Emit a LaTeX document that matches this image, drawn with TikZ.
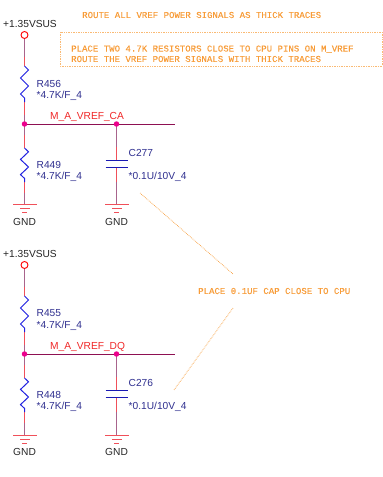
\documentclass[tikz,border=0pt]{standalone}
\usepackage{fontspec}
\setmainfont{Liberation Sans}
\newfontfamily\notefont[FakeBold=0.12]{Liberation Mono}
\definecolor{wiremauve}{HTML}{A8648C}
\definecolor{wirered}{HTML}{F0505A}
\definecolor{netcol}{HTML}{8E1052}
\definecolor{partblue}{HTML}{2020E0}
\definecolor{labelblue}{HTML}{303090}
\definecolor{netlabel}{HTML}{F02828}
\definecolor{notecol}{HTML}{F89C38}
\tikzset{
  wirem/.style={draw=wiremauve,line width=1.5pt},
  wirer/.style={draw=wirered,line width=1.5pt},
  gndbar/.style={draw=wirered,line width=0.9pt},
  plate/.style={draw=partblue!80!black,line width=0.85pt},
  net/.style={draw=netcol,line width=0.85pt},
  res/.style={draw=partblue,line width=1pt},
  dotj/.style={circle,fill=magenta,inner sep=0pt,minimum size=5.5pt},
  pwr/.style={circle,draw=red,fill=white,line width=0.9pt,inner sep=0pt,minimum size=7pt},
  txt/.style={font=\fontsize{10.2}{11}\selectfont,text=black!85,inner sep=0pt,anchor=west},
  lbl/.style={font=\fontsize{10.2}{11}\selectfont,text=labelblue,inner sep=0pt,anchor=west},
  netl/.style={font=\fontsize{10.2}{11}\selectfont,text=netlabel,inner sep=0pt,anchor=west},
  note/.style={font=\notefont\fontsize{9.05}{10}\selectfont,text=notecol,inner sep=0pt,anchor=west},
  leader/.style={draw=notecol,line width=0.7pt,densely dotted},
  notebox/.style={draw=notecol!70,line width=0.7pt,densely dotted},
}
\newcommand{\vrefblock}[7]{%
  \begin{scope}[yshift=-#2pt]
    \node[txt] (vs#1) at (3,24) {+1.35VSUS};
    \coordinate (ra#1) at (24.5,66);
    \coordinate (rb#1) at (24.5,102);
    \coordinate (j#1) at (24.5,124);
    \coordinate (k#1) at (116.5,124);
    \coordinate (ne#1) at (175,124);
    \coordinate (rc#1) at (24.5,148);
    \coordinate (rd#1) at (24.5,182);
    \coordinate (g#1) at (24.5,#7);
    \coordinate (h#1) at (116.5,#7);
    \coordinate (pa#1) at (116.5,160);
    \coordinate (pb#1) at (116.5,167);
    \coordinate (pt#1) at (24.5,35);
    \draw[wirem] (pt#1) -- (ra#1);
    \draw[wirer] (24.5,57) -- (ra#1);
    \draw[wirem] (rb#1) -- (j#1);
    \draw[wirer] (rb#1) -- (24.5,115);
    \draw[wirem] (j#1) -- (rc#1);
    \draw[wirer] (24.5,135) -- (rc#1);
    \draw[wirem] (rd#1) -- (g#1);
    \draw[wirer] (rd#1) -- (24.5,193);
    \draw[wirem] (k#1) -- (pa#1);
    \draw[wirer] (116.5,147) -- (pa#1);
    \draw[wirem] (pb#1) -- (h#1);
    \draw[wirer] (pb#1) -- (116.5,182);
    \draw[net] (j#1) -- (ne#1);
    \node[pwr] (pw#1) at (pt#1) {};
    \draw[res] (ra#1) -- ++(4,4) -- ++(-8,8) -- ++(8,8) -- ++(-8,8) -- ++(4,4) -- (rb#1);
    \draw[res] (rc#1) -- ++(4,3.8) -- ++(-8,7.6) -- ++(8,7.6) -- ++(-8,7.6) -- ++(4,3.8) -- (rd#1);
    \draw[plate] (105.5,160) -- (127.5,160);
    \draw[plate] (105.5,167) -- (127.5,167);
    \draw[gndbar] (13,#7) -- (37,#7) (20,#7+4.5) -- (30,#7+4.5) (22,#7+8.5) -- (27,#7+8.5);
    \draw[gndbar] (105,#7) -- (129,#7) (112,#7+4.5) -- (122,#7+4.5) (114,#7+8.5) -- (119,#7+8.5);
    \node[dotj] (dj#1) at (j#1) {};
    \node[dotj] (dk#1) at (k#1) {};
    \node[lbl] (r1#1) at (36.5,83.5) {#3};
    \node[lbl] (v1#1) at (36.5,95.5) {*4.7K/F\_4};
    \node[netl] (n#1) at (50,116.5) {#6};
    \node[lbl] (r2#1) at (36.5,164.5) {#4};
    \node[lbl] (v2#1) at (36.5,176.5) {*4.7K/F\_4};
    \node[lbl] (c#1) at (128.5,153) {#5};
    \node[lbl] (cv#1) at (128.5,176.5) {*0.1U/10V\_4};
    \node[txt] (ga#1) at (13,222) {GND};
    \node[txt] (gb#1) at (105,222) {GND};
  \end{scope}}
\begin{document}
\begin{tikzpicture}[x=1pt,y=-1pt]
  \useasboundingbox[fill=white] (0,0) rectangle (383,477);
  \vrefblock{A}{0}{R456}{R449}{C277}{M\_A\_VREF\_CA}{204}
  \vrefblock{B}{230}{R455}{R448}{C276}{M\_A\_VREF\_DQ}{205}
  \node[note] (t1) at (82,15) {ROUTE ALL VREF POWER SIGNALS AS THICK TRACES};
  \draw[notebox] (60,32) rectangle (382,66);
  \node[note] (t2) at (71,49) {PLACE TWO 4.7K RESISTORS CLOSE TO CPU PINS ON M\_VREF};
  \node[note] (t3) at (71,59) {ROUTE THE VREF POWER SIGNALS WITH THICK TRACES};
  \node[note] (t4) at (198,291) {PLACE 0.1UF CAP CLOSE TO CPU};
  \coordinate (l1a) at (140,193);
  \coordinate (l1b) at (233,274);
  \coordinate (l2a) at (233,308);
  \coordinate (l2b) at (174,390);
  \draw[leader] (l1a) -- (l1b);
  \draw[leader] (l2a) -- (l2b);
\end{tikzpicture}
\end{document}
